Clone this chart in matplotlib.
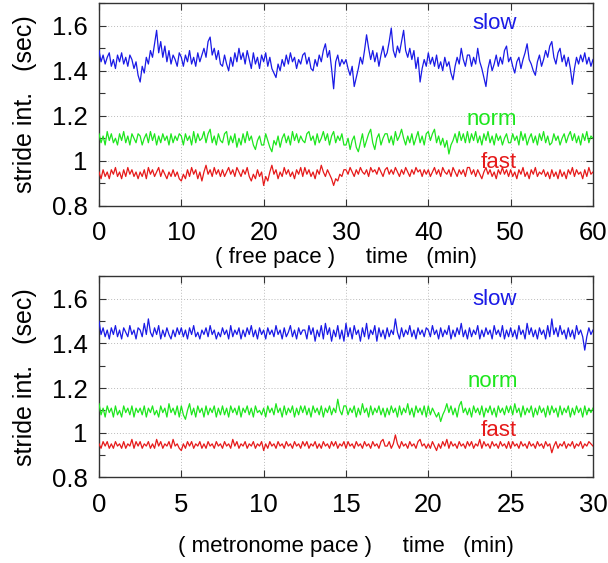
import matplotlib
matplotlib.use("Agg")
import matplotlib.pyplot as plt
from matplotlib import font_manager
from matplotlib.ticker import MultipleLocator

# ---------------- data ----------------
free_t_step = 0.25   # minutes between samples, free pace
metro_t_step = 0.125 # minutes between samples, metronome pace

free_slow = [
    1.49, 1.44, 1.47, 1.43, 1.46, 1.48, 1.42, 1.45, 1.41, 1.47, 1.44, 1.48, 1.43, 1.46, 1.42, 1.47, 1.45, 1.41, 1.44, 1.38,
    1.35, 1.42, 1.39, 1.46, 1.43, 1.49, 1.46, 1.52, 1.58, 1.48, 1.53, 1.46, 1.51, 1.44, 1.49, 1.43, 1.47, 1.45, 1.42, 1.48,
    1.46, 1.42, 1.47, 1.44, 1.49, 1.43, 1.46, 1.42, 1.48, 1.44, 1.47, 1.50, 1.46, 1.53, 1.55, 1.47, 1.50, 1.45, 1.49, 1.43,
    1.42, 1.47, 1.43, 1.40, 1.46, 1.42, 1.48, 1.44, 1.50, 1.45, 1.48, 1.43, 1.49, 1.45, 1.41, 1.48, 1.43, 1.46, 1.41, 1.47,
    1.44, 1.48, 1.42, 1.46, 1.41, 1.39, 1.37, 1.43, 1.40, 1.45, 1.42, 1.47, 1.43, 1.48, 1.44, 1.46, 1.41, 1.45, 1.43, 1.47,
    1.48, 1.43, 1.46, 1.41, 1.40, 1.45, 1.42, 1.47, 1.44, 1.49, 1.52, 1.46, 1.49, 1.41, 1.32, 1.44, 1.47, 1.42, 1.45, 1.43,
    1.45, 1.41, 1.38, 1.42, 1.33, 1.37, 1.41, 1.46, 1.43, 1.49, 1.56, 1.50, 1.45, 1.49, 1.44, 1.48, 1.42, 1.47, 1.51, 1.46,
    1.48, 1.53, 1.59, 1.49, 1.46, 1.51, 1.48, 1.53, 1.58, 1.49, 1.46, 1.50, 1.45, 1.49, 1.41, 1.46, 1.35, 1.41, 1.45, 1.42,
    1.48, 1.43, 1.46, 1.42, 1.47, 1.41, 1.44, 1.40, 1.46, 1.42, 1.44, 1.39, 1.36, 1.42, 1.46, 1.43, 1.50, 1.45, 1.42, 1.47,
    1.47, 1.42, 1.46, 1.43, 1.50, 1.44, 1.41, 1.37, 1.33, 1.41, 1.45, 1.40, 1.43, 1.47, 1.42, 1.46, 1.43, 1.49, 1.51, 1.44,
    1.46, 1.42, 1.39, 1.44, 1.46, 1.41, 1.45, 1.48, 1.52, 1.45, 1.43, 1.40, 1.38, 1.44, 1.47, 1.42, 1.45, 1.49, 1.46, 1.51,
    1.53, 1.46, 1.43, 1.48, 1.50, 1.44, 1.47, 1.42, 1.46, 1.41, 1.34, 1.41, 1.46, 1.43, 1.47, 1.44, 1.48, 1.43, 1.46, 1.42,
    1.45,
]
free_norm = [
    1.12, 1.08, 1.11, 1.07, 1.13, 1.09, 1.12, 1.08, 1.10, 1.07, 1.12, 1.09, 1.13, 1.08, 1.11, 1.07, 1.12, 1.10, 1.08, 1.12,
    1.11, 1.07, 1.10, 1.12, 1.08, 1.13, 1.09, 1.12, 1.07, 1.11, 1.08, 1.12, 1.09, 1.11, 1.07, 1.12, 1.08, 1.11, 1.09, 1.12,
    1.11, 1.07, 1.12, 1.09, 1.11, 1.07, 1.13, 1.08, 1.12, 1.09, 1.10, 1.13, 1.08, 1.12, 1.14, 1.08, 1.11, 1.07, 1.12, 1.09,
    1.08, 1.12, 1.13, 1.07, 1.11, 1.08, 1.12, 1.06, 1.10, 1.07, 1.12, 1.08, 1.13, 1.09, 1.11, 1.07, 1.05, 1.09, 1.11, 1.07,
    1.07, 1.12, 1.09, 1.06, 1.04, 1.09, 1.07, 1.11, 1.06, 1.10, 1.12, 1.08, 1.11, 1.07, 1.13, 1.09, 1.12, 1.08, 1.11, 1.09,
    1.08, 1.12, 1.13, 1.09, 1.11, 1.07, 1.12, 1.08, 1.10, 1.13, 1.09, 1.12, 1.07, 1.11, 1.13, 1.08, 1.11, 1.09, 1.12, 1.07,
    1.07, 1.10, 1.05, 1.09, 1.11, 1.06, 1.04, 1.08, 1.12, 1.06, 1.09, 1.12, 1.14, 1.08, 1.05, 1.10, 1.12, 1.07, 1.10, 1.12,
    1.12, 1.08, 1.11, 1.07, 1.13, 1.09, 1.11, 1.14, 1.10, 1.07, 1.11, 1.08, 1.12, 1.07, 1.10, 1.13, 1.08, 1.11, 1.07, 1.12,
    1.13, 1.09, 1.12, 1.14, 1.08, 1.11, 1.07, 1.10, 1.06, 1.09, 1.03, 1.07, 1.09, 1.12, 1.08, 1.13, 1.09, 1.12, 1.08, 1.13,
    1.08, 1.12, 1.09, 1.13, 1.08, 1.11, 1.07, 1.12, 1.09, 1.13, 1.08, 1.11, 1.07, 1.12, 1.09, 1.11, 1.07, 1.10, 1.12, 1.08,
    1.08, 1.12, 1.09, 1.11, 1.07, 1.13, 1.09, 1.12, 1.07, 1.10, 1.12, 1.08, 1.11, 1.07, 1.12, 1.09, 1.13, 1.08, 1.11, 1.07,
    1.08, 1.12, 1.09, 1.11, 1.07, 1.10, 1.12, 1.08, 1.11, 1.13, 1.09, 1.12, 1.08, 1.11, 1.07, 1.12, 1.09, 1.13, 1.08, 1.11,
    1.10,
]
free_fast = [
    0.95, 0.92, 0.96, 0.93, 0.95, 0.92, 0.96, 0.94, 0.97, 0.93, 0.95, 0.92, 0.96, 0.93, 0.97, 0.94, 0.96, 0.93, 0.95, 0.92,
    0.95, 0.93, 0.96, 0.92, 0.97, 0.94, 0.96, 0.93, 0.95, 0.97, 0.93, 0.96, 0.94, 0.92, 0.95, 0.93, 0.96, 0.93, 0.95, 0.92,
    0.91, 0.94, 0.92, 0.96, 0.93, 0.97, 0.94, 0.96, 0.92, 0.95, 0.91, 0.95, 0.98, 0.94, 0.96, 0.93, 0.97, 0.94, 0.96, 0.93,
    0.96, 0.93, 0.95, 0.97, 0.94, 0.96, 0.93, 0.97, 0.95, 0.93, 0.96, 0.94, 0.97, 0.93, 0.91, 0.94, 0.92, 0.96, 0.93, 0.95,
    0.89, 0.93, 0.91, 0.95, 0.98, 0.94, 0.96, 0.92, 0.95, 0.93, 0.97, 0.94, 0.96, 0.93, 0.95, 0.92, 0.96, 0.94, 0.97, 0.93,
    0.97, 0.94, 0.96, 0.93, 0.95, 0.92, 0.96, 0.94, 0.98, 0.95, 0.93, 0.96, 0.94, 0.92, 0.89, 0.92, 0.91, 0.94, 0.93, 0.96,
    0.96, 0.94, 0.97, 0.95, 0.93, 0.96, 0.94, 0.97, 0.95, 0.94, 0.96, 0.93, 0.97, 0.95, 0.96, 0.94, 0.97, 0.95, 0.93, 0.96,
    0.97, 0.94, 0.96, 0.94, 0.97, 0.95, 0.93, 0.96, 0.94, 0.97, 0.95, 0.93, 0.96, 0.94, 0.97, 0.95, 0.96, 0.93, 0.96, 0.94,
    0.96, 0.93, 0.95, 0.97, 0.94, 0.96, 0.93, 0.97, 0.95, 0.94, 0.96, 0.93, 0.97, 0.95, 0.93, 0.96, 0.94, 0.96, 0.93, 0.97,
    0.97, 0.94, 0.96, 0.93, 0.96, 0.94, 0.92, 0.95, 0.97, 0.94, 0.96, 0.93, 0.95, 0.92, 0.96, 0.94, 0.97, 0.94, 0.96, 0.93,
    0.96, 0.93, 0.95, 0.92, 0.96, 0.94, 0.97, 0.93, 0.95, 0.92, 0.96, 0.94, 0.97, 0.93, 0.95, 0.94, 0.96, 0.93, 0.95, 0.92,
    0.96, 0.93, 0.95, 0.92, 0.96, 0.93, 0.95, 0.92, 0.96, 0.94, 0.97, 0.93, 0.96, 0.94, 0.95, 0.92, 0.96, 0.93, 0.97, 0.94,
    0.95,
]

metro_slow = [
    1.50, 1.44, 1.47, 1.43, 1.46, 1.42, 1.47, 1.44, 1.48, 1.43, 1.46, 1.42, 1.47, 1.45, 1.43, 1.48, 1.44, 1.46, 1.42, 1.47,
    1.46, 1.43, 1.49, 1.44, 1.51, 1.45, 1.43, 1.47, 1.44, 1.48, 1.42, 1.46, 1.43, 1.47, 1.44, 1.42, 1.46, 1.43, 1.47, 1.44,
    1.47, 1.43, 1.46, 1.42, 1.47, 1.44, 1.48, 1.43, 1.45, 1.42, 1.46, 1.44, 1.47, 1.43, 1.48, 1.44, 1.46, 1.42, 1.45, 1.43,
    1.47, 1.44, 1.46, 1.42, 1.48, 1.43, 1.46, 1.44, 1.47, 1.42, 1.46, 1.43, 1.47, 1.44, 1.48, 1.43, 1.46, 1.42, 1.47, 1.44,
    1.46, 1.42, 1.47, 1.44, 1.46, 1.43, 1.48, 1.44, 1.46, 1.42, 1.47, 1.43, 1.45, 1.48, 1.43, 1.46, 1.42, 1.47, 1.44, 1.46,
    1.46, 1.42, 1.48, 1.44, 1.47, 1.41, 1.46, 1.43, 1.48, 1.42, 1.49, 1.44, 1.47, 1.41, 1.46, 1.43, 1.48, 1.42, 1.46, 1.41,
    1.49, 1.43, 1.47, 1.42, 1.48, 1.44, 1.46, 1.41, 1.47, 1.43, 1.49, 1.42, 1.46, 1.44, 1.48, 1.41, 1.47, 1.43, 1.46, 1.42,
    1.47, 1.43, 1.46, 1.44, 1.51, 1.45, 1.42, 1.47, 1.43, 1.46, 1.44, 1.48, 1.43, 1.46, 1.42, 1.47, 1.44, 1.46, 1.43, 1.47,
    1.46, 1.43, 1.48, 1.44, 1.46, 1.42, 1.47, 1.43, 1.46, 1.44, 1.48, 1.42, 1.46, 1.43, 1.47, 1.44, 1.49, 1.43, 1.46, 1.42,
    1.47, 1.43, 1.46, 1.44, 1.48, 1.42, 1.46, 1.43, 1.47, 1.44, 1.46, 1.42, 1.48, 1.44, 1.46, 1.43, 1.48, 1.42, 1.46, 1.43,
    1.47, 1.43, 1.46, 1.42, 1.48, 1.44, 1.46, 1.42, 1.49, 1.44, 1.47, 1.43, 1.46, 1.42, 1.47, 1.44, 1.46, 1.42, 1.48, 1.43,
    1.51, 1.44, 1.47, 1.43, 1.48, 1.44, 1.46, 1.42, 1.47, 1.43, 1.46, 1.42, 1.48, 1.44, 1.46, 1.43, 1.37, 1.43, 1.47, 1.44,
    1.46,
]
metro_norm = [
    1.13, 1.08, 1.11, 1.07, 1.12, 1.09, 1.11, 1.07, 1.12, 1.08, 1.10, 1.07, 1.12, 1.09, 1.11, 1.08, 1.12, 1.07, 1.11, 1.09,
    1.11, 1.08, 1.12, 1.07, 1.11, 1.09, 1.12, 1.08, 1.10, 1.07, 1.12, 1.09, 1.11, 1.07, 1.13, 1.09, 1.11, 1.08, 1.12, 1.07,
    1.12, 1.08, 1.06, 1.10, 1.13, 1.08, 1.11, 1.07, 1.12, 1.09, 1.11, 1.07, 1.12, 1.08, 1.11, 1.09, 1.12, 1.07, 1.11, 1.08,
    1.12, 1.08, 1.11, 1.07, 1.12, 1.09, 1.11, 1.08, 1.12, 1.07, 1.11, 1.09, 1.12, 1.08, 1.11, 1.07, 1.12, 1.09, 1.10, 1.08,
    1.11, 1.07, 1.12, 1.09, 1.11, 1.08, 1.13, 1.09, 1.11, 1.07, 1.12, 1.08, 1.11, 1.09, 1.12, 1.07, 1.11, 1.08, 1.12, 1.09,
    1.12, 1.08, 1.11, 1.07, 1.12, 1.09, 1.11, 1.08, 1.12, 1.07, 1.11, 1.09, 1.12, 1.08, 1.11, 1.09, 1.15, 1.10, 1.08, 1.12,
    1.12, 1.08, 1.11, 1.09, 1.12, 1.07, 1.11, 1.08, 1.13, 1.09, 1.11, 1.07, 1.12, 1.08, 1.11, 1.09, 1.12, 1.08, 1.11, 1.07,
    1.11, 1.08, 1.12, 1.09, 1.11, 1.07, 1.12, 1.08, 1.11, 1.09, 1.13, 1.08, 1.11, 1.07, 1.12, 1.09, 1.11, 1.08, 1.12, 1.07,
    1.12, 1.08, 1.11, 1.09, 1.07, 1.09, 1.05, 1.08, 1.10, 1.13, 1.09, 1.12, 1.08, 1.11, 1.07, 1.12, 1.14, 1.09, 1.11, 1.08,
    1.11, 1.07, 1.12, 1.09, 1.11, 1.08, 1.12, 1.07, 1.11, 1.09, 1.12, 1.08, 1.11, 1.07, 1.12, 1.09, 1.11, 1.08, 1.12, 1.09,
    1.12, 1.08, 1.13, 1.09, 1.11, 1.07, 1.12, 1.08, 1.11, 1.09, 1.12, 1.07, 1.11, 1.08, 1.12, 1.09, 1.11, 1.07, 1.12, 1.08,
    1.12, 1.09, 1.11, 1.07, 1.12, 1.08, 1.11, 1.09, 1.12, 1.07, 1.11, 1.08, 1.12, 1.09, 1.11, 1.07, 1.12, 1.08, 1.11, 1.09,
    1.11,
]
metro_fast = [
    0.95, 0.93, 0.96, 0.94, 0.96, 0.93, 0.95, 0.93, 0.96, 0.94, 0.95, 0.93, 0.96, 0.93, 0.95, 0.94, 0.97, 0.93, 0.96, 0.94,
    0.96, 0.93, 0.95, 0.94, 0.96, 0.93, 0.95, 0.93, 0.97, 0.94, 0.96, 0.93, 0.95, 0.94, 0.96, 0.93, 0.97, 0.94, 0.95, 0.93,
    0.92, 0.95, 0.93, 0.96, 0.94, 0.96, 0.93, 0.95, 0.94, 0.96, 0.93, 0.95, 0.93, 0.96, 0.94, 0.95, 0.93, 0.96, 0.94, 0.95,
    0.93, 0.96, 0.94, 0.95, 0.93, 0.97, 0.94, 0.96, 0.93, 0.95, 0.94, 0.96, 0.93, 0.95, 0.94, 0.96, 0.93, 0.95, 0.94, 0.96,
    0.92, 0.95, 0.93, 0.96, 0.94, 0.95, 0.93, 0.96, 0.94, 0.95, 0.93, 0.96, 0.94, 0.95, 0.93, 0.96, 0.94, 0.95, 0.93, 0.96,
    0.94, 0.96, 0.93, 0.95, 0.94, 0.96, 0.93, 0.95, 0.93, 0.96, 0.94, 0.95, 0.93, 0.96, 0.94, 0.96, 0.93, 0.95, 0.94, 0.96,
    0.93, 0.96, 0.94, 0.95, 0.93, 0.96, 0.94, 0.95, 0.93, 0.96, 0.94, 0.95, 0.93, 0.96, 0.94, 0.95, 0.93, 0.96, 0.97, 0.94,
    0.94, 0.96, 0.93, 0.95, 0.99, 0.95, 0.93, 0.96, 0.94, 0.95, 0.93, 0.96, 0.94, 0.95, 0.93, 0.96, 0.97, 0.94, 0.95, 0.93,
    0.95, 0.93, 0.96, 0.94, 0.92, 0.95, 0.93, 0.96, 0.94, 0.97, 0.93, 0.96, 0.94, 0.95, 0.93, 0.96, 0.94, 0.95, 0.93, 0.96,
    0.94, 0.96, 0.93, 0.95, 0.94, 0.97, 0.93, 0.96, 0.94, 0.95, 0.93, 0.96, 0.94, 0.95, 0.93, 0.96, 0.94, 0.95, 0.93, 0.96,
    0.93, 0.96, 0.94, 0.95, 0.93, 0.96, 0.94, 0.95, 0.93, 0.96, 0.94, 0.95, 0.93, 0.96, 0.94, 0.95, 0.93, 0.96, 0.94, 0.95,
    0.91, 0.94, 0.96, 0.93, 0.95, 0.94, 0.96, 0.93, 0.95, 0.94, 0.96, 0.93, 0.95, 0.94, 0.96, 0.93, 0.95, 0.94, 0.96, 0.95,
    0.94,
]

series_names = ["slow", "norm", "fast"]
free_xticks = [0, 10, 20, 30, 40, 50, 60]
metro_xticks = [0, 5, 10, 15, 20, 25, 30]
yticks = [0.8, 1.0, 1.2, 1.4, 1.6]
ytick_labels = ["0.8", "1", "1.2", "1.4", "1.6"]

# ---------------- styling ----------------
available = {f.name for f in font_manager.fontManager.ttflist}
narrow = "Liberation Sans Narrow" if "Liberation Sans Narrow" in available else "Liberation Sans"
plt.rcParams["font.family"] = ["Liberation Sans", "DejaVu Sans"]

colors = {"slow": "#1a1ae6", "norm": "#1ee61e", "fast": "#e61a1a"}

fig = plt.figure(figsize=(6.08, 5.63), dpi=100)
ax1 = fig.add_axes([0.1628, 0.6346, 0.8125, 0.3595])
ax2 = fig.add_axes([0.1628, 0.1522, 0.8125, 0.3567])


def draw(ax, step, data, xticks, xlabel, xlabel_y, label_pos):
    for name in series_names:
        t = [i * step for i in range(len(data[name]))]
        ax.plot(t, data[name], color=colors[name], lw=0.9, zorder=3)
    for name in series_names:
        x, y = label_pos[name]
        ax.text(x, y, name, color=colors[name], fontsize=16,
                ha="center", va="baseline", zorder=4)
    ax.set_xlim(xticks[0], xticks[-1])
    ax.set_ylim(0.8, 1.7)
    ax.set_xticks(xticks)
    ax.set_xticklabels([str(v) for v in xticks], fontfamily=narrow, fontsize=18.5)
    ax.set_yticks(yticks)
    ax.set_yticklabels(ytick_labels, fontfamily=narrow, fontsize=18.5)
    ax.yaxis.set_minor_locator(MultipleLocator(0.1))
    ax.tick_params(which="both", direction="in", top=True, right=True,
                   colors="#333333", labelcolor="black")
    ax.tick_params(which="major", length=5, width=0.8)
    ax.tick_params(which="minor", length=4, width=0.8)
    ax.tick_params(axis="x", pad=11)
    ax.tick_params(axis="y", pad=8)
    ax.grid(True, which="major", linestyle=(0, (1, 2)), color="#bbbbbb", lw=0.7, zorder=0)
    for sp in ax.spines.values():
        sp.set_color("#333333")
        sp.set_linewidth(1.0)
    ax.set_xlabel(xlabel, fontsize=16, va="center")
    ax.xaxis.set_label_coords(0.5, xlabel_y)
    ax.set_ylabel("stride int.   (sec)", fontsize=18, va="center")
    ax.yaxis.set_label_coords(-0.15, 0.5)


draw(ax1, free_t_step,
     {"slow": free_slow, "norm": free_norm, "fast": free_fast},
     free_xticks, "( free pace )     time   (min)", -0.258,
     {"slow": (48.0, 1.587), "norm": (47.7, 1.16), "fast": (48.6, 0.969)})
draw(ax2, metro_t_step,
     {"slow": metro_slow, "norm": metro_norm, "fast": metro_fast},
     metro_xticks, "( metronome pace )     time   (min)", -0.344,
     {"slow": (24.0, 1.573), "norm": (23.9, 1.204), "fast": (24.3, 0.983)})

fig.savefig("out.png", dpi=100)
